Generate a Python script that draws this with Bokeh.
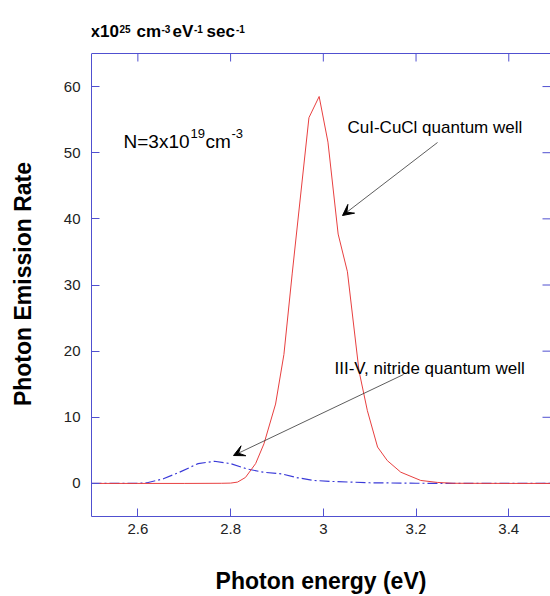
from bokeh.plotting import figure
from bokeh.models import Range1d, Label, Arrow, VeeHead, FixedTicker
from bokeh.embed import file_html
from bokeh.resources import INLINE

# ---- data ----
energy_cucl = [2.50, 2.60, 2.70, 2.78, 2.80, 2.815, 2.832, 2.854, 2.872, 2.897, 2.915,
               2.933, 2.969, 2.991, 3.010, 3.032, 3.052, 3.077, 3.095, 3.117, 3.138,
               3.167, 3.21, 3.246, 3.28, 3.40, 3.50]
rate_cucl = [0.0, 0.0, 0.0, 0.02, 0.05, 0.2, 0.9, 3.0, 6.0, 12.0, 19.5,
             31.8, 55.3, 58.5, 51.6, 37.7, 32.0, 17.0, 11.0, 5.5, 3.45,
             1.7, 0.45, 0.15, 0.02, 0.0, 0.0]

energy_nitride = [2.50, 2.60, 2.62, 2.655, 2.69, 2.73, 2.765, 2.80, 2.835, 2.87, 2.91,
                  2.945, 2.98, 3.02, 3.06, 3.10, 3.20, 3.30, 3.40, 3.50]
rate_nitride = [0.0, 0.02, 0.1, 0.7, 1.7, 3.0, 3.35, 3.0, 2.2, 1.7, 1.45,
                0.85, 0.45, 0.3, 0.2, 0.1, 0.03, 0.0, 0.0, 0.0]

x_ticks = [2.6, 2.8, 3.0, 3.2, 3.4]
x_tick_labels = ["2.6", "2.8", "3", "3.2", "3.4"]
y_ticks = [0, 10, 20, 30, 40, 50, 60]
y_tick_labels = ["0", "10", "20", "30", "40", "50", "60"]

X_MIN, X_MAX = 2.5, 3.49     # visible part of the energy axis
Y_MIN, Y_MAX = -5, 65        # plot box limits of the rate axis

FONT = "Liberation Sans"
AXIS_BLUE = "#5050d0"
NBSP = "\u00a0"

# scale helpers (pixels per data unit) for placing annotations
XS = 459 / (X_MAX - X_MIN)
YS = 463 / (Y_MAX - Y_MIN)
Y_TOP = Y_MAX + 53 / YS       # frame extends up to the top of the canvas

p = figure(width=550, height=596, x_range=Range1d(X_MIN, X_MAX), y_range=Range1d(Y_MIN, Y_TOP),
           output_backend="svg", toolbar_location=None,
           min_border_left=91, min_border_right=0, min_border_top=0, min_border_bottom=80,
           x_axis_label="Photon energy (eV)",
           y_axis_label="Photon Emission Rate" + NBSP * 8)
p.grid.visible = False
p.outline_line_color = None
p.background_fill_color = "white"
p.border_fill_color = "white"


def style_axis(ax, ticks, labels):
    ax.ticker = FixedTicker(ticks=ticks)
    ax.axis_line_color = AXIS_BLUE
    ax.major_tick_line_color = AXIS_BLUE
    ax.major_tick_in = 8
    ax.major_tick_out = 0
    ax.minor_tick_line_color = None
    ax.major_label_overrides = {t: l for t, l in zip(ticks, labels)}
    ax.major_label_text_font = FONT
    ax.major_label_text_font_size = "15px"
    ax.major_label_text_color = "#222222"
    ax.axis_label_text_font = FONT
    ax.axis_label_text_font_size = "23px"
    ax.axis_label_text_font_style = "bold"
    ax.axis_label_text_color = "black"


xa = p.xaxis[0]
ya = p.yaxis[0]
style_axis(xa, x_ticks, x_tick_labels)
style_axis(ya, y_ticks, y_tick_labels)
ya.bounds = (Y_MIN, Y_MAX)
xa.major_label_standoff = 7
xa.axis_label_standoff = 31
ya.major_label_standoff = 11
ya.axis_label_standoff = 25

# top edge of the box and its ticks, right-side ticks
p.segment(x0=[X_MIN], y0=[Y_MAX], x1=[X_MAX], y1=[Y_MAX], line_color=AXIS_BLUE, line_width=1)
p.segment(x0=x_ticks, y0=[Y_MAX] * len(x_ticks), x1=x_ticks, y1=[Y_MAX - 8 / YS] * len(x_ticks),
          line_color=AXIS_BLUE, line_width=1)
p.segment(x0=[X_MAX] * len(y_ticks), y0=y_ticks, x1=[X_MAX - 8 / XS] * len(y_ticks), y1=y_ticks,
          line_color=AXIS_BLUE, line_width=1)

# curves
p.line(energy_nitride, rate_nitride, line_color="#3a3ad8", line_width=1.2, line_dash="10 3 2 3")
p.line(energy_cucl, rate_cucl, line_color="#e84040", line_width=1.0)

Y0PX = 53 + Y_MAX * YS   # pixel row of rate 0


def dx(px):
    return X_MIN + (px - 91) / XS


def dy(py):
    return (Y0PX - py) / YS


def txt(px, py, s, size, bold=False):
    p.add_layout(Label(x=dx(px), y=dy(py), text=s, text_font=FONT, text_font_size=size,
                       text_font_style="bold" if bold else "normal", text_color="black",
                       text_baseline="alphabetic", text_align="left"))


# unit label above the plot
txt(90, 30.7, "x10", "17px", True)
txt(119, 28.3, "25", "10px", True)
txt(136, 30.7, "cm", "17px", True)
txt(161, 28.3, "-3", "10px", True)
txt(172, 30.7, "eV", "17px", True)
txt(193.5, 28.3, "-1", "10px", True)
txt(206, 30.7, "sec", "17px", True)
txt(235.5, 28.3, "-1", "10px", True)

# density label
txt(123, 140.7, "N=3x10", "19px")
txt(190, 132.5, "19", "13px")
txt(205, 140.7, "cm", "19px")
txt(231, 132.5, "-3", "13px")

# curve annotations
txt(347, 127.3, "CuI-CuCl quantum well", "17px")
txt(334, 367.7, "III-V, nitride quantum well", "17px")

p.add_layout(Arrow(end=VeeHead(size=11, fill_color="black", line_color="black"),
                   x_start=dx(437), y_start=dy(142), x_end=dx(342), y_end=dy(215),
                   line_color="#333333", line_width=0.8))
p.add_layout(Arrow(end=VeeHead(size=11, fill_color="black", line_color="black"),
                   x_start=dx(403), y_start=dy(374), x_end=dx(233), y_end=dy(455),
                   line_color="#333333", line_width=0.8))

open("out.html", "w").write(file_html(p, INLINE))
